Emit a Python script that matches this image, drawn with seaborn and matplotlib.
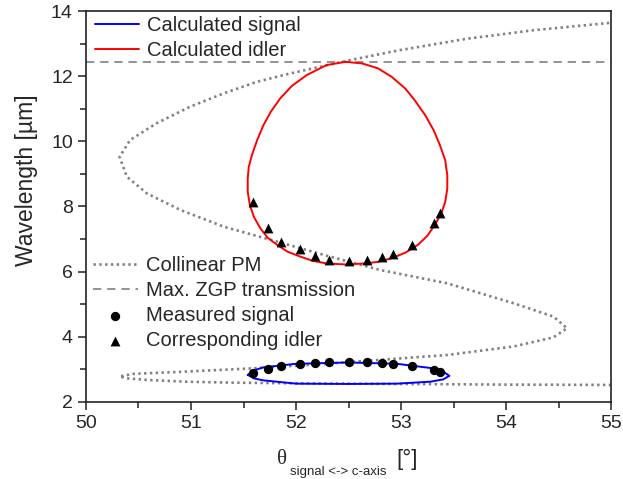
import numpy as np
import pandas as pd
import matplotlib.pyplot as plt
import seaborn as sns
from matplotlib.ticker import MultipleLocator

# --- data ---
# collinear phase matching curve (angle in deg, wavelength in um), in drawing order
pm_angle = [55.0, 54.0, 53.0, 52.0, 51.4, 50.95, 50.6, 50.4, 50.32, 50.45, 50.95,
            51.59, 52.2, 52.8, 53.44, 54.07, 54.45, 54.58, 54.45, 54.07, 53.44,
            52.8, 52.3, 51.82, 51.31, 50.9, 50.58, 50.39, 50.32, 50.42, 50.67,
            50.99, 51.31, 51.63, 51.94, 52.51, 52.99, 53.63, 54.26, 55.0]
pm_wl = [2.52, 2.53, 2.55, 2.57, 2.59, 2.62, 2.67, 2.72, 2.78, 2.86, 2.93,
         3.03, 3.15, 3.29, 3.44, 3.70, 3.98, 4.26, 4.62, 5.03, 5.64,
         6.05, 6.48, 6.92, 7.38, 7.89, 8.40, 8.91, 9.52, 10.04, 10.55,
         11.06, 11.47, 11.83, 12.08, 12.49, 12.80, 13.15, 13.41, 13.64]

# calculated idler (closed loop)
idler_angle = [52.47, 52.29, 52.10, 51.96, 51.85, 51.76, 51.69, 51.63, 51.58, 51.55,
               51.54, 51.54, 51.56, 51.60, 51.66, 51.73, 51.82, 51.92, 52.04, 52.16,
               52.29, 52.47, 52.66, 52.78, 52.91, 53.04, 53.16, 53.25, 53.32, 53.38,
               53.42, 53.44, 53.44, 53.42, 53.37, 53.31, 53.23, 53.13, 53.04, 52.91,
               52.78, 52.63, 52.47]
idler_wl = [12.44, 12.34, 12.03, 11.70, 11.32, 10.91, 10.50, 10.04, 9.58, 9.22,
            8.86, 8.45, 8.04, 7.67, 7.33, 7.04, 6.82, 6.61, 6.46, 6.33,
            6.25, 6.22, 6.25, 6.30, 6.41, 6.58, 6.82, 7.10, 7.43, 7.76,
            8.14, 8.55, 8.96, 9.42, 9.88, 10.34, 10.80, 11.26, 11.62, 11.98,
            12.24, 12.39, 12.44]

# calculated signal (closed loop)
signal_angle = [51.54, 51.60, 51.69, 52.0, 52.5, 52.96, 53.28, 53.40, 53.46, 53.40,
                53.28, 52.96, 52.5, 52.0, 51.69, 51.60, 51.54]
signal_wl = [2.83, 2.97, 3.06, 3.17, 3.21, 3.17, 3.04, 2.93, 2.80, 2.69,
             2.62, 2.56, 2.55, 2.56, 2.66, 2.72, 2.83]

# measurements
meas_angle = [51.59, 51.73, 51.86, 52.04, 52.18, 52.31, 52.50, 52.68, 52.82,
              52.92, 53.10, 53.31, 53.37]
meas_signal = [2.88, 3.00, 3.11, 3.16, 3.19, 3.21, 3.23, 3.21, 3.19, 3.17,
               3.11, 2.98, 2.92]
meas_idler = [8.14, 7.35, 6.92, 6.69, 6.48, 6.36, 6.33, 6.36, 6.44, 6.54,
              6.82, 7.50, 7.79]

zgp_limit = 12.43

sns.set_style("ticks")
plt.rcParams['font.family'] = ['Liberation Sans', 'DejaVu Sans']

fig = plt.figure(figsize=(6.23, 4.79), dpi=100)
ax = fig.add_axes([0.138, 0.161, 0.843, 0.816])

pm = pd.DataFrame({"angle": pm_angle, "wl": pm_wl})
idl = pd.DataFrame({"angle": idler_angle, "wl": idler_wl})
sig = pd.DataFrame({"angle": signal_angle, "wl": signal_wl})
meas = pd.DataFrame({"angle": meas_angle, "signal": meas_signal, "idler": meas_idler})

sns.lineplot(data=pm, x="angle", y="wl", sort=False, estimator=None, ax=ax,
             color="#808080", lw=1.9, linestyle=(0, (0.9, 1.3)), label="Collinear PM")
ax.axhline(zgp_limit, color="#808080", lw=1.2, linestyle=(0, (5, 3.5)),
           label="Max. ZGP transmission")
sns.lineplot(data=sig, x="angle", y="wl", sort=False, estimator=None, ax=ax,
             color="#0000ff", lw=1.4, label="Calculated signal")
sns.lineplot(data=idl, x="angle", y="wl", sort=False, estimator=None, ax=ax,
             color="#ff0000", lw=1.4, label="Calculated idler")
sns.scatterplot(data=meas, x="angle", y="signal", ax=ax, color="black", marker="o",
                s=45, linewidth=0, label="Measured signal", zorder=5)
sns.scatterplot(data=meas, x="angle", y="idler", ax=ax, color="black", marker="^",
                s=50, linewidth=0, label="Corresponding idler", zorder=5)

ax.set_xlim(50, 55)
ax.set_ylim(2, 14)
ax.xaxis.set_major_locator(MultipleLocator(1))
ax.xaxis.set_minor_locator(MultipleLocator(0.5))
ax.yaxis.set_major_locator(MultipleLocator(2))
ax.yaxis.set_minor_locator(MultipleLocator(1))
ax.tick_params(which="both", direction="out", top=False, right=False,
               labelsize=14, width=1.1, color="#222222")
ax.tick_params(which="major", length=6)
ax.tick_params(which="minor", length=4)
for s in ax.spines.values():
    s.set_visible(True)
    s.set_color("#222222")
    s.set_linewidth(1.2)

ax.set_xlabel("")
ax.set_ylabel("Wavelength [µm]", fontsize=16.5)
ax.yaxis.set_label_coords(-0.092, 0.568)

# x label built from pieces: theta, subscript, unit
fig.text(0.452, 0.040, "θ", family=["Liberation Serif", "DejaVu Serif"], fontsize=15,
         ha="center", va="center")
fig.text(0.543, 0.014, "signal <-> c-axis", fontsize=9.5, ha="center", va="center")
fig.text(0.654, 0.040, "[°]", fontsize=16, ha="center", va="center")

handles, labels = ax.get_legend_handles_labels()
hmap = dict(zip(labels, handles))
leg_kw = dict(frameon=False, fontsize=14.5, borderpad=0, borderaxespad=0,
              handlelength=2.2, handletextpad=0.4, labelspacing=0.31,
              loc="upper left", scatterpoints=1)
leg1 = ax.legend([hmap["Calculated signal"], hmap["Calculated idler"]],
                 ["Calculated signal", "Calculated idler"],
                 bbox_to_anchor=(0.017, 0.987), **leg_kw)
ax.add_artist(leg1)
names2 = ["Collinear PM", "Max. ZGP transmission", "Measured signal", "Corresponding idler"]
ax.legend([hmap[n] for n in names2], names2, bbox_to_anchor=(0.014, 0.374), **leg_kw)

fig.savefig("out.png", dpi=100)
